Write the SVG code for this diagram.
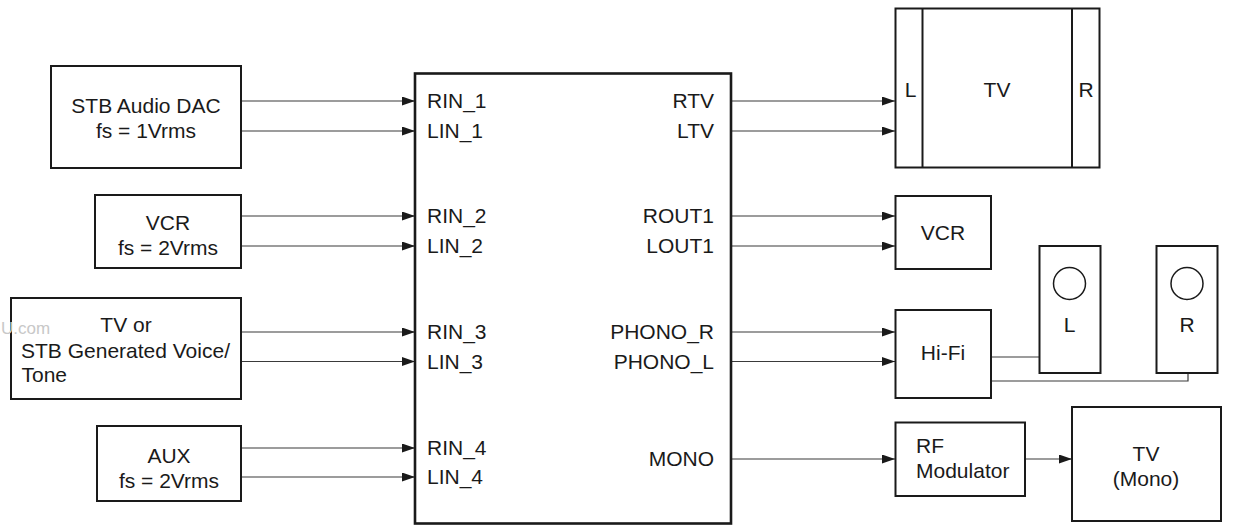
<svg xmlns="http://www.w3.org/2000/svg" width="1245" height="527" viewBox="0 0 1245 527">
<defs>
<style>
.box{fill:#fff;stroke:#1a1a1a;stroke-width:2}
.main{fill:#fff;stroke:#1a1a1a;stroke-width:2.6}
.ln{fill:none;stroke:#3a3a3a;stroke-width:1.2}
text{font-family:"Liberation Sans",Arial,sans-serif;font-size:21px;fill:#1a1a1a}
.m{text-anchor:middle}
.e{text-anchor:end}
.wm{fill:#c8c8c8;font-size:17px}
</style>
<marker id="ah" markerUnits="userSpaceOnUse" markerWidth="13" markerHeight="9" refX="13" refY="4.5" orient="auto">
<path d="M0,0 L13,4.5 L0,9 z" fill="#1a1a1a"/>
</marker>
</defs>
<g id="connectors">
<line class="ln" x1="241" y1="101" x2="415" y2="101" marker-end="url(#ah)"/>
<line class="ln" x1="241" y1="131" x2="415" y2="131" marker-end="url(#ah)"/>
<line class="ln" x1="241" y1="216" x2="415" y2="216" marker-end="url(#ah)"/>
<line class="ln" x1="241" y1="246" x2="415" y2="246" marker-end="url(#ah)"/>
<line class="ln" x1="241" y1="332" x2="415" y2="332" marker-end="url(#ah)"/>
<line class="ln" x1="241" y1="361.5" x2="415" y2="361.5" marker-end="url(#ah)"/>
<line class="ln" x1="241" y1="448" x2="415" y2="448" marker-end="url(#ah)"/>
<line class="ln" x1="241" y1="477" x2="415" y2="477" marker-end="url(#ah)"/>
<line class="ln" x1="731" y1="101" x2="895" y2="101" marker-end="url(#ah)"/>
<line class="ln" x1="731" y1="131" x2="895" y2="131" marker-end="url(#ah)"/>
<line class="ln" x1="731" y1="216" x2="895" y2="216" marker-end="url(#ah)"/>
<line class="ln" x1="731" y1="246" x2="895" y2="246" marker-end="url(#ah)"/>
<line class="ln" x1="731" y1="332" x2="895" y2="332" marker-end="url(#ah)"/>
<line class="ln" x1="731" y1="361.5" x2="895" y2="361.5" marker-end="url(#ah)"/>
<line class="ln" x1="731" y1="459" x2="895" y2="459" marker-end="url(#ah)"/>
<line class="ln" x1="1025" y1="459" x2="1072" y2="459" marker-end="url(#ah)"/>
<polyline class="ln" points="991,357 1039,357"/>
<polyline class="ln" points="991,381 1188,381 1188,373"/>
</g>
<g id="stb_dac">
<rect class="box" x="51" y="66" width="190" height="102"/>
<text class="m" x="146" y="112.5">STB Audio DAC</text>
<text class="m" x="146" y="138">fs = 1Vrms</text>
</g>
<g id="vcr_in">
<rect class="box" x="95" y="195" width="146" height="73"/>
<text class="m" x="168" y="230">VCR</text>
<text class="m" x="168" y="254.5">fs = 2Vrms</text>
</g>
<g id="tv_voice">
<rect class="box" x="11" y="298" width="230" height="101"/>
<text class="wm" x="1" y="334">U.com</text>
<text class="m" x="126" y="332">TV or</text>
<text class="m" x="125.5" y="357.5">STB Generated Voice/</text>
<text x="21.5" y="382">Tone</text>
</g>
<g id="aux">
<rect class="box" x="97" y="426" width="144" height="75"/>
<text class="m" x="169" y="463">AUX</text>
<text class="m" x="169" y="487.5">fs = 2Vrms</text>
</g>
<g id="main">
<rect class="main" x="415" y="73.5" width="316" height="450"/>
<text x="427" y="108">RIN_1</text>
<text x="427" y="138">LIN_1</text>
<text x="427" y="223">RIN_2</text>
<text x="427" y="253">LIN_2</text>
<text x="427" y="339">RIN_3</text>
<text x="427" y="369">LIN_3</text>
<text x="427" y="454.5">RIN_4</text>
<text x="427" y="484">LIN_4</text>
<text class="e" x="714" y="108">RTV</text>
<text class="e" x="714" y="138">LTV</text>
<text class="e" x="714" y="223">ROUT1</text>
<text class="e" x="714" y="253">LOUT1</text>
<text class="e" x="714" y="339">PHONO_R</text>
<text class="e" x="714" y="369">PHONO_L</text>
<text class="e" x="714" y="465.5">MONO</text>
</g>
<g id="tv">
<rect class="box" x="895.5" y="8.5" width="204" height="159"/>
<line class="box" x1="922.5" y1="8.5" x2="922.5" y2="167.5"/>
<line class="box" x1="1072" y1="8.5" x2="1072" y2="167.5"/>
<text class="m" x="910.5" y="97">L</text>
<text class="m" x="997" y="97">TV</text>
<text class="m" x="1086" y="97">R</text>
</g>
<g id="vcr_out">
<rect class="box" x="895.5" y="196" width="95.5" height="73"/>
<text class="m" x="943" y="240">VCR</text>
</g>
<g id="spk_l">
<rect class="box" x="1039.5" y="246" width="61" height="127"/>
<circle cx="1069.5" cy="283.5" r="16" fill="none" stroke="#1a1a1a" stroke-width="1.5"/>
<text class="m" x="1069.5" y="332">L</text>
</g>
<g id="spk_r">
<rect class="box" x="1156.5" y="246" width="61" height="127"/>
<circle cx="1187" cy="283.5" r="16" fill="none" stroke="#1a1a1a" stroke-width="1.5"/>
<text class="m" x="1187" y="332">R</text>
</g>
<g id="hifi">
<rect class="box" x="895.5" y="310" width="95.5" height="88"/>
<text class="m" x="943" y="360">Hi-Fi</text>
</g>
<g id="rf_mod">
<rect class="box" x="895.5" y="422.5" width="129.5" height="73.5"/>
<text x="916" y="453">RF</text>
<text x="916" y="478">Modulator</text>
</g>
<g id="tv_mono">
<rect class="box" x="1072" y="407" width="149" height="114"/>
<text class="m" x="1146" y="461">TV</text>
<text class="m" x="1146" y="486">(Mono)</text>
</g>
</svg>
